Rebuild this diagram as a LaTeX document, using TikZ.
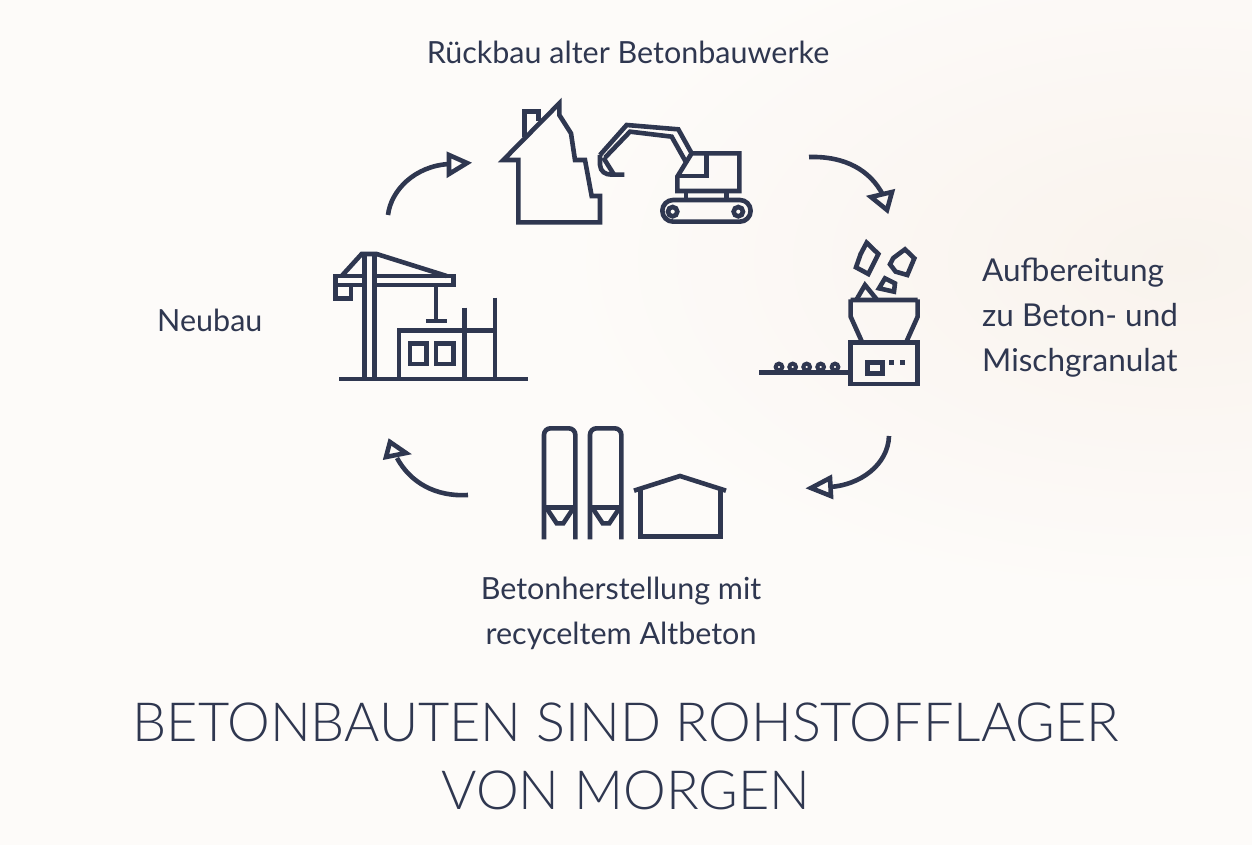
\documentclass[tikz,border=0pt]{standalone}
\usepackage{fontspec}
\setmainfont{Lato}
\newfontfamily\lightfont{Lato Light}
\definecolor{ink}{HTML}{2F3750}
\definecolor{paper}{HTML}{FDFBF9}
\definecolor{haze}{HTML}{F9F3ED}
\begin{document}
\begin{tikzpicture}[x=1pt,y=-1pt,
  icon/.style={draw=ink,line width=4.6pt,line join=miter,fill=none},
  label/.style={text=ink,font=\fontsize{30.5}{45}\selectfont,align=left,anchor=west,inner sep=0pt},
  clabel/.style={label,align=center,anchor=center},
  title/.style={text=ink,font=\lightfont\fontsize{54}{68}\selectfont,align=center,anchor=center,inner sep=0pt}]
\useasboundingbox (0,0) rectangle (1252,845);
\fill[paper] (0,0) rectangle (1252,845);
\begin{scope}
\clip (0,0) rectangle (1252,845);
\shade[inner color=haze,outer color=paper] (1180,260) ellipse[x radius=620,y radius=340];
\end{scope}
\node[clabel] (t1) at (628,52) {Rückbau alter Betonbauwerke};
\node[label,font=\fontsize{31.5}{45}\selectfont] (t2) at (982,318) {Aufbereitung\\zu Beton- und\\Mischgranulat};
\node[clabel] (t3) at (621,613) {Betonherstellung mit\\recyceltem Altbeton};
\node[label] (t4) at (157,320) {Neubau};
\node[title] (t5) at (626,756) {BETONBAUTEN SIND ROHSTOFFLAGER\\VON MORGEN};
% house & excavator
\begin{scope}[shift={(490,90)},x=0.3333pt,y=-0.3333pt]
\draw[icon] (40,210)--(208,40)--(208,75)--(243,130)--(255,210)--(285,210)--(305,318)--(330,318)--(330,397)--(85,397)--(85,210)--cycle;
\draw[icon] (103,140)--(103,65)--(145,65)--(145,92);
\draw[icon] (330,195)--(410,105)--(565,118)--(605,190);
\draw[icon] (345,203)--(420,125)--(545,140)--(590,220);
\draw[icon] (330,195)--(330,225) .. controls (332,245) and (345,254) .. (365,254)--(403,254);
\draw[icon] (340,203)--(372,254);
\draw[icon] (605,190)--(748,190)--(748,303)--(562,303)--(562,260)--cycle;
\draw[icon] (650,190)--(650,258)--(562,258);
\draw[icon] (588,303)--(588,330) (710,303)--(710,330);
\draw[icon,rounded corners=10.8pt] (517,330) rectangle (782,395);
\draw[icon] (548,365) circle[radius=14] (745,365) circle[radius=14];
\end{scope}
% recycling plant
\begin{scope}[shift={(750,230)},x=0.3333pt,y=-0.3333pt]
\draw[icon] (350,38)--(385,72)--(355,132)--(318,112)--(332,72)--cycle;
\draw[icon] (465,58)--(493,85)--(472,135)--(437,125)--(420,103)--(430,84)--cycle;
\draw[icon] (405,145)--(435,160)--(432,185)--(387,175)--cycle;
\draw[icon] (320,208)--(345,165)--(380,208);
\draw[icon] (302,210)--(503,210) (302,208)--(302,260)--(337,338) (503,208)--(503,260)--(468,338);
\draw[icon] (302,338) rectangle (503,462);
\draw[icon] (352,397) rectangle (397,430);
\draw[icon] (418,398)--(432,398) (450,398)--(466,398);
\draw[icon] (28,428)--(302,428);
\foreach \cx in {87,128,170,212,255}{\draw[icon,line width=4pt] (\cx,411) circle[radius=10];}
\end{scope}
% crane
\begin{scope}[shift={(325,240)},x=0.3333pt,y=-0.3333pt]
\draw[icon] (118,417)--(118,42) (148,417)--(148,42);
\draw[icon] (50,108)--(110,42)--(155,42)--(365,108);
\draw[icon] (118,108)--(32,108)--(32,135)--(118,135) (148,108)--(385,108)--(385,135)--(148,135);
\draw[icon] (32,135) rectangle (78,175);
\draw[icon] (333,135)--(333,243) (303,243)--(365,243);
\draw[icon] (42,417)--(610,417);
\draw[icon] (222,417)--(222,272)--(510,272);
\draw[icon] (418,203)--(418,417) (510,173)--(510,417);
\draw[icon] (255,310) rectangle (305,372) (333,310) rectangle (385,372);
\end{scope}
% silos & hall
\begin{scope}[shift={(530,420)},x=0.3333pt,y=-0.3333pt]
\foreach \ox in {0,138}{
\begin{scope}[xshift=\ox*0.3333pt]
\draw[icon,rounded corners=6.5pt] (42,358)--(42,25)--(136,25)--(136,358);
\draw[icon] (42,262)--(136,262);
\draw[icon] (52,268)--(80,310)--(100,310)--(128,268);
\end{scope}}
\draw[icon] (312,212)--(450,168)--(588,212);
\draw[icon] (332,207)--(332,350)--(572,350)--(572,207);
\end{scope}
% cycle arrows
\coordinate (a1s) at (388,215); \coordinate (a1e) at (449,164);
\coordinate (a2s) at (809,157); \coordinate (a2e) at (883,195);
\coordinate (a3s) at (889,436); \coordinate (a3e) at (830,487);
\coordinate (a4s) at (468,495); \coordinate (a4e) at (397,458);
\draw[icon] (a1s) .. controls (391,190) and (415,166) .. (a1e);
\draw[icon] (449,155)--(467,163)--(449,174)--cycle;
\draw[icon] (a2s) .. controls (845,156) and (870,170) .. (a2e);
\draw[icon] (871,197)--(892,192)--(887,210)--cycle;
\draw[icon] (a3s) .. controls (888,465) and (860,485) .. (a3e);
\draw[icon] (830,478)--(811,488)--(831,496)--cycle;
\draw[icon] (a4s) .. controls (435,497) and (410,482) .. (a4e);
\draw[icon] (390,442)--(386,457)--(406,453)--cycle;
\end{tikzpicture}
\end{document}
